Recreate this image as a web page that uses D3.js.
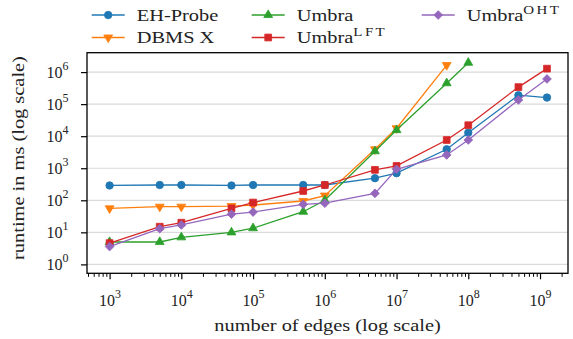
<!DOCTYPE html>
<html>
<head>
<meta charset="utf-8">
<script src="https://cdn.jsdelivr.net/npm/d3@7"></script>
<style>
  body { margin: 0; background: #fff; }
  text { font-family: "Liberation Serif", "Times New Roman", serif; fill: #222; }
</style>
</head>
<body>
<div id="mainDiv"></div>
<script>
'use strict';

var edges    = [1e3, 5e3, 1e4, 5e4, 1e5, 5e5, 1e6, 5e6, 1e7, 5e7, 1e8, 5e8, 1.25e9];
var ehProbe  = [290, 300, 300, 290, 300, 300, 300, 490, 700, 3900, 12900, 190000, 160000];
var dbmsX    = [56, 63, 63, 66, 71, 95, 140, 3900, 17700, 1660000];
var umbra    = [5, 5, 7, 10, 13.5, 44, 100, 3400, 15500, 450000, 1960000];
var umbraLFT = [4.6, 15, 20, 56, 85, 195, 300, 890, 1180, 7600, 22000, 340000, 1280000];
var umbraOHT = [3.6, 13, 17, 37, 43, 75, 81, 165, 930, 2600, 7600, 135000, 610000];

var xTicks = [1e3, 1e4, 1e5, 1e6, 1e7, 1e8, 1e9];
var yTicks = [1e0, 1e1, 1e2, 1e3, 1e4, 1e5, 1e6];

var series = [
    { name: "EH-Probe", sup: "",    values: ehProbe,  color: "#1f77b4", marker: "circle" },
    { name: "DBMS X",   sup: "",    values: dbmsX,    color: "#ff7f0e", marker: "tridown" },
    { name: "Umbra",    sup: "",    values: umbra,    color: "#2ca02c", marker: "triup" },
    { name: "Umbra",    sup: "LFT", values: umbraLFT, color: "#d62728", marker: "square" },
    { name: "Umbra",    sup: "OHT", values: umbraOHT, color: "#9467bd", marker: "diamond" }
];

var myApp = {};

myApp.left = 87;
myApp.right = 568;
myApp.top = 52.7;
myApp.bottom = 273.3;
myApp.stretch = 1.2;

myApp.markerPath = function (type)
{
    if (type === "circle") return d3.symbol(d3.symbolCircle, 44)();
    if (type === "square") return d3.symbol(d3.symbolSquare, 46)();
    if (type === "diamond") return d3.symbol(d3.symbolSquare, 38)();
    return d3.symbol(d3.symbolTriangle, 34)();
}

myApp.markerRotate = function (type)
{
    if (type === "diamond") return 45;
    if (type === "tridown") return 180;
    return 0;
}

myApp.drawMarker = function (g, s, x, y)
{
    g.append("path")
        .attr("d", myApp.markerPath(s.marker))
        .attr("transform", "translate(" + x + "," + y + ") rotate(" + myApp.markerRotate(s.marker) + ")")
        .attr("fill", s.color)
        .attr("stroke", s.color)
        .attr("stroke-width", 0.8);
}

myApp.powLabel = function (sel, v)
{
    var e = Math.round(Math.log10(v));
    sel.text("");
    sel.append("tspan").text("10");
    sel.append("tspan").attr("dy", -8).attr("font-size", "12px").text(e);
}

// text drawn a little wider than the font, like the reference
myApp.label = function (parent, x, y, rotate, anchor, size)
{
    var g = parent.append("g")
        .attr("transform", "translate(" + x + "," + y + ") rotate(" + rotate + ")");
    return g.append("text")
        .attr("transform", "scale(" + myApp.stretch + ",1)")
        .attr("text-anchor", anchor)
        .attr("font-size", size + "px");
}

myApp.run = function ()
{
    var svg = d3.select("#mainDiv").append("svg")
        .attr("width", 573)
        .attr("height", 339);

    var x = d3.scaleLog()
        .domain([Math.pow(10, 2.685), Math.pow(10, 9.39)])
        .range([myApp.left, myApp.right]);
    var y = d3.scaleLog()
        .domain([Math.pow(10, -0.278), Math.pow(10, 6.605)])
        .range([myApp.bottom, myApp.top]);

    // grid
    svg.append("g").selectAll("line")
        .data(yTicks)
        .enter()
        .append("line")
            .attr("x1", myApp.left)
            .attr("x2", myApp.right)
            .attr("y1", function(d) { return y(d); })
            .attr("y2", function(d) { return y(d); })
            .attr("stroke", "#dadada")
            .attr("stroke-width", 1.2);

    // minor x ticks
    var minor = [];
    for (var k = 2; k <= 9; k++)
    {
        for (var j = 2; j <= 9; j++)
        {
            var v = j * Math.pow(10, k);
            if (x(v) >= myApp.left && x(v) <= myApp.right) minor.push(v);
        }
    }
    var xMinor = svg.append("g")
        .attr("transform", "translate(0," + myApp.bottom + ")")
        .call(d3.axisBottom(x).tickValues(minor).tickSize(3.5).tickFormat(""));
    xMinor.select(".domain").remove();
    xMinor.selectAll("line").attr("stroke", "#000").attr("stroke-width", 1);

    var xAxis = svg.append("g")
        .attr("transform", "translate(0," + myApp.bottom + ")")
        .call(d3.axisBottom(x).tickValues(xTicks).tickSize(6));
    xAxis.select(".domain").remove();
    xAxis.selectAll("line").attr("stroke", "#000").attr("stroke-width", 1.2);
    xAxis.selectAll("text")
        .attr("font-size", "16px")
        .attr("font-family", null)
        .attr("fill", "#222")
        .attr("y", 32.5)
        .attr("dy", 0)
        .each(function(d) { myApp.powLabel(d3.select(this), d); });

    var yAxis = svg.append("g")
        .attr("transform", "translate(" + myApp.left + ",0)")
        .call(d3.axisLeft(y).tickValues(yTicks).tickSize(6).tickPadding(12.5));
    yAxis.select(".domain").remove();
    yAxis.selectAll("line").attr("stroke", "#000").attr("stroke-width", 1.2);
    yAxis.selectAll("text")
        .attr("font-size", "16px")
        .attr("font-family", null)
        .attr("fill", "#222")
        .attr("dy", 5)
        .each(function(d) { myApp.powLabel(d3.select(this), d); });

    // lines and markers
    var line = d3.line()
        .x(function(d) { return x(d[0]); })
        .y(function(d) { return y(d[1]); });

    series.forEach(function (s)
    {
        var pts = s.values.map(function(v, i) { return [edges[i], v]; });
        var g = svg.append("g");
        g.append("path")
            .attr("d", line(pts))
            .attr("fill", "none")
            .attr("stroke", s.color)
            .attr("stroke-width", 1.3);
        pts.forEach(function(p) { myApp.drawMarker(g, s, x(p[0]), y(p[1])); });
    });

    // frame
    svg.append("rect")
        .attr("x", myApp.left)
        .attr("y", myApp.top)
        .attr("width", myApp.right - myApp.left)
        .attr("height", myApp.bottom - myApp.top)
        .attr("fill", "none")
        .attr("stroke", "#000")
        .attr("stroke-width", 1.3);

    // axis titles
    myApp.label(svg, (myApp.left + myApp.right) / 2, 331, 0, "middle", 17)
        .text("number of edges (log scale)");
    myApp.label(svg, 24, 158, -90, "middle", 17)
        .text("runtime in ms (log scale)");

    // legend, column-wise with three columns
    var colX = [91.7, 251.7, 421.7];
    var rowY = [15, 37.5];
    series.forEach(function (s, i)
    {
        var lx = colX[Math.floor(i / 2)];
        var ly = rowY[i % 2];
        var g = svg.append("g");
        g.append("line")
            .attr("x1", lx).attr("x2", lx + 33)
            .attr("y1", ly).attr("y2", ly)
            .attr("stroke", s.color)
            .attr("stroke-width", 1.3);
        myApp.drawMarker(g, s, lx + 16.5, ly);
        var t = myApp.label(g, lx + 45, ly + 5.5, 0, "start", 17);
        t.append("tspan").text(s.name);
        if (s.sup)
        {
            t.append("tspan")
                .attr("dy", -7)
                .attr("font-size", "12.5px")
                .attr("letter-spacing", "2px")
                .text(s.sup);
        }
    });
}

window.onload = myApp.run;
</script>
</body>
</html>
